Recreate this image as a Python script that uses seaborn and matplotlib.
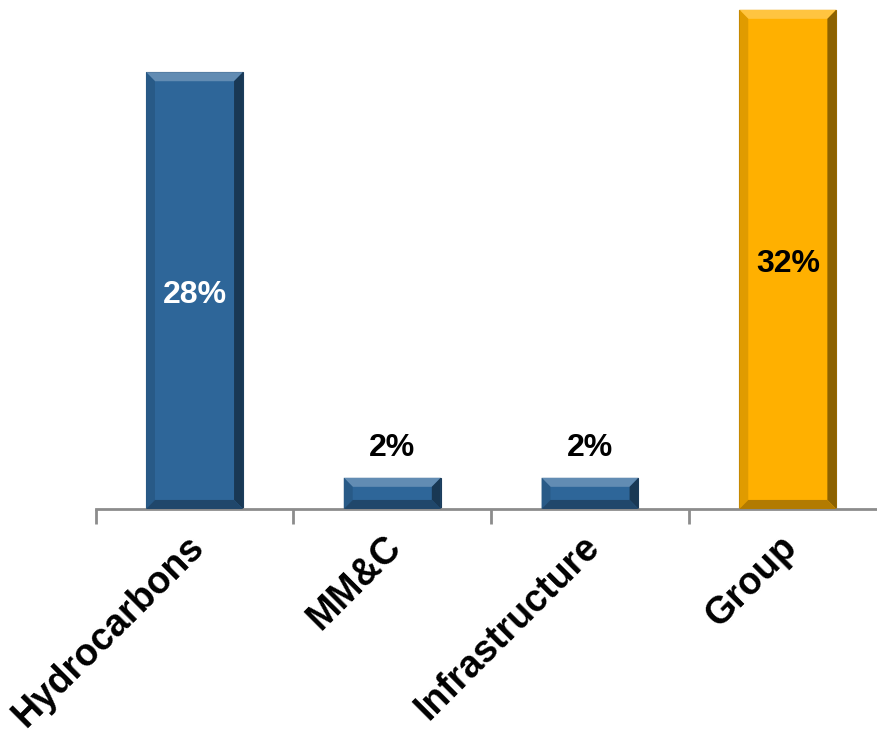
import matplotlib
matplotlib.use("Agg")
import matplotlib.pyplot as plt
import seaborn as sns
import pandas as pd
from matplotlib.patches import Polygon
import matplotlib.colors as mcolors
import matplotlib.transforms as mtransforms

categories = ["Hydrocarbons", "MM&C", "Infrastructure", "Group"]
values = [28, 2, 2, 32]
value_labels = ["28%", "2%", "2%", "32%"]
bar_colors = ["#2E6699", "#2E6699", "#2E6699", "#FFB000"]

sns.set_theme(style="white")
plt.rcParams["font.family"] = ["Liberation Sans", "DejaVu Sans"]

df = pd.DataFrame({"cat": categories, "val": values})

fig = plt.figure(figsize=(8.78, 7.29), dpi=100)
ax = fig.add_axes([0.1089, 0.3018, 0.901, 0.6955])

sns.barplot(data=df, x="cat", y="val", hue="cat", palette=bar_colors,
            width=0.49, ax=ax, legend=False, saturation=1)

ax.set_xlim(-0.5, 3.5)
ax.set_ylim(0, 32.5)

def shade(c, f):
    r, g, b = mcolors.to_rgb(c)
    if f > 1:
        return (r + (1 - r) * (f - 1), g + (1 - g) * (f - 1), b + (1 - b) * (f - 1))
    return (r * f, g * f, b * f)

bx = 0.045
by = 0.58
for p, col in zip(ax.patches, bar_colors):
    x0, y0 = p.get_x(), p.get_y()
    w, h = p.get_width(), p.get_height()
    x1, y1 = x0 + w, y0 + h
    p.set_edgecolor(shade(col, 0.6))
    p.set_linewidth(0.8)
    ax.add_patch(Polygon([(x0, y1), (x1, y1), (x1 - bx, y1 - by), (x0 + bx, y1 - by)],
                         closed=True, facecolor=shade(col, 1.25), edgecolor="none", zorder=3))
    ax.add_patch(Polygon([(x1, y1), (x1, y0), (x1 - bx, y0 + by), (x1 - bx, y1 - by)],
                         closed=True, facecolor=shade(col, 0.55), edgecolor="none", zorder=3))
    ax.add_patch(Polygon([(x0, y1), (x0, y0), (x0 + bx, y0 + by), (x0 + bx, y1 - by)],
                         closed=True, facecolor=shade(col, 0.88), edgecolor="none", zorder=3))
    ax.add_patch(Polygon([(x0, y0), (x1, y0), (x1 - bx, y0 + by), (x0 + bx, y0 + by)],
                         closed=True, facecolor=shade(col, 0.7), edgecolor="none", zorder=3))

for i, (v, lab) in enumerate(zip(values, value_labels)):
    if v > 10:
        color = "white" if i == 0 else "black"
        ax.text(i, v / 2 - 0.3, lab, ha="center", va="center", fontsize=23,
                fontweight="bold", color=color, zorder=5)
    else:
        ax.text(i, v + 1.9, lab, ha="center", va="center", fontsize=23,
                fontweight="bold", color="black", zorder=5)

for s in ["top", "right", "left"]:
    ax.spines[s].set_visible(False)
ax.spines["bottom"].set_color("#8C8C8C")
ax.spines["bottom"].set_linewidth(2)
ax.set_yticks([])
ax.set_xlabel("")
ax.set_ylabel("")

ax.set_xticks(range(len(categories)))
ax.set_xticklabels(categories, rotation=45, ha="right", rotation_mode="anchor",
                   fontsize=27, fontweight="bold", color="black")
ax.tick_params(axis="x", length=0, pad=14)
offset = mtransforms.ScaledTranslation(-9 / 100, 0, fig.dpi_scale_trans)
for lbl in ax.get_xticklabels():
    lbl.set_transform(lbl.get_transform() + offset)

ax.set_xticks([i - 0.5 for i in range(len(categories) + 1)], minor=True)
ax.tick_params(axis="x", which="minor", length=11, width=2, color="#8C8C8C",
               direction="out", bottom=True)

fig.savefig("out.png", dpi=100)
